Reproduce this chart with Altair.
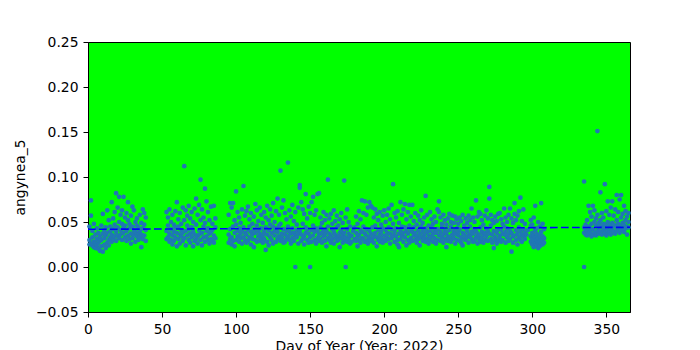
import altair as alt
import pandas as pd

# ---- data (values per day, by segment) ----
seg_a_start = 1
seg_a = [
    [0.045, 0.030, 0.025], [0.074, 0.057, 0.026], [0.040, 0.024, 0.033], [0.048, 0.022, 0.028],
    [0.036, 0.026, 0.021], [0.043, 0.031, 0.024], [0.038, 0.020, 0.027], [0.029, 0.018, 0.034],
    [0.046, 0.023, 0.030], [0.059, 0.017, 0.037], [0.041, 0.025, 0.032], [0.035, 0.021, 0.044],
    [0.063, 0.027, 0.038], [0.052, 0.030, 0.024], [0.045, 0.033, 0.040], [0.072, 0.036, 0.028],
    [0.054, 0.042, 0.031], [0.061, 0.034, 0.047], [0.082, 0.039, 0.029], [0.066, 0.044, 0.035],
    [0.078, 0.050, 0.032], [0.058, 0.041, 0.036], [0.063, 0.048, 0.030], [0.078, 0.038, 0.044],
    [0.055, 0.033, 0.046], [0.060, 0.040, 0.029], [0.072, 0.052, 0.035], [0.048, 0.031, 0.043],
    [0.057, 0.037, 0.026], [0.067, 0.045, 0.032], [0.063, 0.036, 0.041], [0.050, 0.028, 0.039],
    [0.054, 0.034, 0.046], [0.044, 0.030, 0.038], [0.058, 0.040, 0.033], [0.049, 0.022, 0.036],
    [0.064, 0.043, 0.031], [0.060, 0.035, 0.047], [0.055, 0.041, 0.029],
]

seg_b_start = 53
seg_b = [
    [0.061, 0.040, 0.031], [0.055, 0.033, 0.046], [0.064, 0.037, 0.028], [0.050, 0.030, 0.042],
    [0.058, 0.035, 0.025], [0.047, 0.029, 0.039], [0.062, 0.044, 0.033], [0.072, 0.038, 0.023],
    [0.053, 0.031, 0.045], [0.060, 0.026, 0.036], [0.048, 0.034, 0.041], [0.066, 0.029, 0.038],
    [0.112, 0.052, 0.032], [0.063, 0.040, 0.024], [0.057, 0.035, 0.046], [0.068, 0.030, 0.042],
    [0.054, 0.027, 0.037], [0.061, 0.044, 0.033], [0.050, 0.023, 0.039], [0.065, 0.036, 0.029],
    [0.076, 0.047, 0.031], [0.058, 0.034, 0.026], [0.069, 0.041, 0.036], [0.097, 0.052, 0.030],
    [0.064, 0.038, 0.024], [0.055, 0.033, 0.045], [0.087, 0.049, 0.028], [0.073, 0.040, 0.034],
    [0.061, 0.030, 0.043], [0.052, 0.026, 0.037], [0.067, 0.039, 0.031], [0.048, 0.029, 0.041],
    [0.068, 0.035, 0.027], [0.054, 0.032, 0.044],
]

seg_c_start = 95
seg_c = [
    [0.058, 0.036, 0.027], [0.071, 0.042, 0.031], [0.066, 0.033, 0.025], [0.071, 0.045, 0.029],
    [0.052, 0.038, 0.023], [0.084, 0.047, 0.030], [0.061, 0.034, 0.040], [0.055, 0.028, 0.043],
    [0.049, 0.032, 0.037], [0.064, 0.026, 0.041], [0.090, 0.044, 0.033], [0.057, 0.030, 0.038],
    [0.062, 0.036, 0.027], [0.067, 0.041, 0.029], [0.053, 0.033, 0.045], [0.060, 0.025, 0.039],
    [0.048, 0.031, 0.036], [0.056, 0.022, 0.042], [0.070, 0.038, 0.030], [0.063, 0.046, 0.028],
    [0.051, 0.034, 0.040], [0.066, 0.029, 0.037], [0.058, 0.043, 0.032], [0.049, 0.027, 0.035],
    [0.061, 0.039, 0.031], [0.055, 0.019, 0.044], [0.068, 0.036, 0.028], [0.052, 0.041, 0.024],
    [0.064, 0.033, 0.047], [0.057, 0.030, 0.038], [0.071, 0.045, 0.026], [0.050, 0.035, 0.040],
    [0.062, 0.028, 0.043], [0.076, 0.039, 0.031], [0.058, 0.034, 0.046], [0.107, 0.048, 0.029],
    [0.066, 0.037, 0.032], [0.074, 0.042, 0.027], [0.060, 0.028, 0.036], [0.053, 0.040, 0.031],
    [0.116, 0.045, 0.034], [0.063, 0.030, 0.039], [0.056, 0.037, 0.026], [0.069, 0.043, 0.032],
    [0.051, 0.029, 0.038], [0.061, 0.000, 0.035], [0.047, 0.033, 0.041], [0.066, 0.026, 0.037],
    [0.088, 0.091, 0.040], [0.072, 0.036, 0.029], [0.064, 0.048, 0.031], [0.059, 0.034, 0.025],
    [0.081, 0.044, 0.038], [0.054, 0.030, 0.042], [0.067, 0.037, 0.027], [0.060, 0.000, 0.033],
    [0.072, 0.041, 0.028], [0.078, 0.035, 0.046], [0.058, 0.030, 0.039], [0.063, 0.026, 0.043],
    [0.081, 0.040, 0.032], [0.082, 0.036, 0.029], [0.055, 0.031, 0.044], [0.049, 0.027, 0.038],
    [0.061, 0.034, 0.041], [0.052, 0.029, 0.036], [0.058, 0.023, 0.040], [0.097, 0.045, 0.032],
    [0.054, 0.030, 0.037], [0.059, 0.035, 0.027], [0.048, 0.031, 0.042], [0.063, 0.026, 0.039],
    [0.051, 0.036, 0.033], [0.057, 0.029, 0.044], [0.046, 0.034, 0.030], [0.053, 0.022, 0.038],
    [0.060, 0.032, 0.041], [0.049, 0.027, 0.035], [0.096, 0.038, 0.030], [0.055, 0.000, 0.033],
    [0.064, 0.042, 0.028], [0.050, 0.031, 0.037], [0.045, 0.026, 0.034], [0.035, 0.028],
    [0.040], [0.031, 0.044], [0.056, 0.029, 0.038], [0.048, 0.023, 0.034],
    [0.062, 0.036, 0.030], [0.053, 0.027, 0.041], [0.074, 0.039, 0.032], [0.060, 0.031, 0.045],
    [0.073, 0.028, 0.037], [0.058, 0.035, 0.042], [0.066, 0.030, 0.026], [0.072, 0.040, 0.033],
    [0.068, 0.029, 0.037], [0.066, 0.044, 0.031], [0.055, 0.034, 0.027], [0.064, 0.038, 0.046],
    [0.059, 0.023, 0.033], [0.052, 0.041, 0.030], [0.061, 0.036, 0.028], [0.047, 0.032, 0.039],
    [0.057, 0.027, 0.043], [0.063, 0.035, 0.030], [0.050, 0.029, 0.041], [0.058, 0.038, 0.033],
    [0.065, 0.031, 0.044], [0.053, 0.026, 0.037], [0.069, 0.042, 0.032], [0.092, 0.048, 0.035],
    [0.060, 0.028, 0.039], [0.055, 0.034, 0.043], [0.062, 0.030, 0.025], [0.049, 0.022, 0.037],
    [0.072, 0.041, 0.031], [0.058, 0.035, 0.045], [0.064, 0.028, 0.038], [0.070, 0.044, 0.033],
    [0.053, 0.024, 0.040], [0.061, 0.037, 0.030], [0.069, 0.046, 0.027], [0.056, 0.032, 0.041],
    [0.069, 0.039, 0.029], [0.051, 0.035, 0.044], [0.060, 0.030, 0.038], [0.047, 0.027, 0.034],
    [0.057, 0.041, 0.031], [0.052, 0.024, 0.037], [0.063, 0.033, 0.045], [0.049, 0.029, 0.040],
    [0.055, 0.036, 0.032], [0.079, 0.043, 0.028], [0.058, 0.031, 0.039], [0.046, 0.026, 0.035],
    [0.061, 0.040, 0.030], [0.053, 0.034, 0.044], [0.048, 0.028, 0.037], [0.056, 0.032, 0.041],
    [0.050, 0.038, 0.026], [0.064, 0.030, 0.042], [0.073, 0.061, 0.035], [0.055, 0.029, 0.039],
    [0.048, 0.033, 0.044], [0.058, 0.027, 0.036], [0.052, 0.040, 0.031], [0.047, 0.022, 0.038],
    [0.054, 0.034, 0.029], [0.059, 0.041, 0.033], [0.050, 0.028, 0.045], [0.057, 0.036, 0.031],
    [0.049, 0.032, 0.040], [0.056, 0.026, 0.037], [0.053, 0.043, 0.030], [0.048, 0.035, 0.039],
    [0.055, 0.029, 0.042], [0.051, 0.033, 0.027], [0.058, 0.024, 0.038], [0.046, 0.036, 0.031],
    [0.054, 0.030, 0.043], [0.049, 0.040, 0.033], [0.057, 0.027, 0.036], [0.052, 0.034, 0.045],
    [0.065, 0.031, 0.039], [0.055, 0.037, 0.028], [0.050, 0.029, 0.042], [0.074, 0.040, 0.033],
    [0.056, 0.026, 0.037], [0.061, 0.035, 0.031], [0.059, 0.044, 0.028], [0.052, 0.032, 0.039],
    [0.047, 0.027, 0.036], [0.057, 0.038, 0.030], [0.063, 0.034, 0.043], [0.054, 0.029, 0.040],
    [0.089, 0.076, 0.037], [0.058, 0.031, 0.046], [0.052, 0.036, 0.027], [0.049, 0.021, 0.040],
    [0.056, 0.033, 0.030], [0.051, 0.038, 0.026], [0.059, 0.029, 0.042], [0.060, 0.035, 0.032],
    [0.053, 0.041, 0.028], [0.048, 0.030, 0.037], [0.065, 0.036, 0.045], [0.055, 0.027, 0.039],
    [0.050, 0.033, 0.043], [0.058, 0.029, 0.036], [0.065, 0.040, 0.031], [0.054, 0.017, 0.038],
    [0.049, 0.034, 0.027], [0.071, 0.059, 0.035], [0.052, 0.030, 0.041], [0.057, 0.037, 0.025],
    [0.062, 0.033, 0.044], [0.077, 0.040, 0.030], [0.051, 0.028, 0.036], [0.064, 0.034, 0.042],
    [0.048, 0.031, 0.038], [0.036], [0.041], [],
    [0.052, 0.034, 0.028, 0.046], [0.047, 0.031, 0.025, 0.038], [0.055, 0.029, 0.022, 0.035],
    [0.068, 0.033, 0.026, 0.041], [0.043, 0.030, 0.024, 0.037], [0.050, 0.027, 0.032, 0.021],
    [0.045, 0.028, 0.035, 0.023], [0.071, 0.031, 0.026, 0.039], [0.048, 0.029, 0.034, 0.025],
    [0.042, 0.032, 0.027],
]

seg_d_start = 335
seg_d = [
    [0.095, 0.000, 0.044, 0.038], [0.047, 0.036, 0.041], [0.052, 0.040, 0.035], [0.068, 0.045, 0.037],
    [0.061, 0.039, 0.043], [0.056, 0.034, 0.048], [0.068, 0.042, 0.036], [0.063, 0.050, 0.038],
    [0.054, 0.035, 0.046], [0.151, 0.058, 0.040], [0.049, 0.037, 0.044], [0.083, 0.052, 0.039],
    [0.060, 0.045, 0.036], [0.055, 0.041, 0.048], [0.092, 0.047, 0.038], [0.062, 0.043, 0.035],
    [0.073, 0.050, 0.040], [0.058, 0.038, 0.046], [0.066, 0.044, 0.036], [0.073, 0.049, 0.041],
    [0.057, 0.039, 0.047], [0.064, 0.045, 0.037], [0.080, 0.052, 0.040], [0.061, 0.043, 0.048],
    [0.075, 0.046, 0.038], [0.080, 0.055, 0.042], [0.059, 0.041, 0.049], [0.068, 0.047, 0.039],
    [0.062, 0.052, 0.043], [0.056, 0.036, 0.045], [0.060, 0.044, 0.050],
]

trend_days = [0, 366]
trend_values = [0.0419, 0.0441]

x_ticks = [0, 50, 100, 150, 200, 250, 300, 350]
y_ticks = [-0.05, 0.0, 0.05, 0.10, 0.15, 0.20, 0.25]

# ---- build table ----
rows = []
for start, seg in [(seg_a_start, seg_a), (seg_b_start, seg_b), (seg_c_start, seg_c), (seg_d_start, seg_d)]:
    for i, vals in enumerate(seg):
        for v in vals:
            rows.append({"day": start + i, "value": v})
df = pd.DataFrame(rows)
trend = pd.DataFrame({"day": trend_days, "value": trend_values})

FONT = "DejaVu Sans"
FS = 13.9

x_enc = alt.X(
    "day:Q",
    scale=alt.Scale(domain=[0, 366], nice=False, zero=False),
    axis=alt.Axis(values=x_ticks, format="d", title="Day of Year (Year: 2022)",
                  titlePadding=4, labelFlush=False),
)
y_enc = alt.Y(
    "value:Q",
    scale=alt.Scale(domain=[-0.05, 0.25], nice=False, zero=False),
    axis=alt.Axis(values=y_ticks, format=".2f", title="angynea_5", titlePadding=8,
                  labelFlush=False),
)

points = alt.Chart(df).mark_circle(size=22, color="#1f77b4", opacity=1).encode(x=x_enc, y=y_enc)
line = alt.Chart(trend).mark_line(color="#0000ff", strokeWidth=1.6, strokeDash=[7.7, 3.3]).encode(
    x="day:Q", y="value:Q"
)

chart = (
    alt.layer(points, line)
    .properties(
        width=542,
        height=270,
        background="white",
        autosize=alt.AutoSizeParams(type="none"),
        padding={"left": 88, "top": 42, "right": 70, "bottom": 38},
    )
    .configure_view(fill="#00ff00", stroke="black", strokeWidth=1)
    .configure_axis(
        grid=False,
        domainColor="black",
        domainWidth=1,
        tickColor="black",
        tickSize=5,
        tickWidth=1,
        labelFont=FONT,
        labelFontSize=FS,
        labelColor="black",
        labelPadding=5,
        titleFont=FONT,
        titleFontSize=FS,
        titleFontWeight="normal",
        titleColor="black",
    )
)

chart.save("out.html", embed_options={"renderer": "svg", "actions": False})
